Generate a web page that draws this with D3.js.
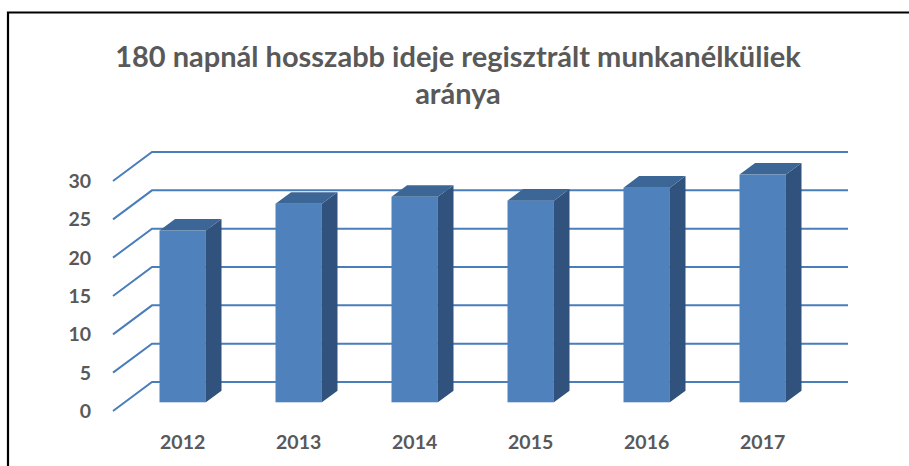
<!DOCTYPE html>
<html><head><meta charset="utf-8">
<script src="https://cdn.jsdelivr.net/npm/d3@7"></script>
<style>body{margin:0;background:#fff}svg{display:block}</style>
</head><body>
<script>
const categories = ["2012","2013","2014","2015","2016","2017"];
const values = [22.4, 25.9, 26.8, 26.3, 28.0, 29.7];
const yTicks = [0,5,10,15,20,25,30];
const titleLines = ["180 napnál hosszabb ideje regisztrált munkanélküliek","aránya"];

const W=909,H=466;
const svg=d3.select("body").append("svg").attr("width",W).attr("height",H);
svg.append("rect").attr("width",W).attr("height",H).attr("fill","#fff");
// frame (partially visible)
svg.append("path").attr("d","M8,470 V12.5 H912").attr("fill","none").attr("stroke","#000").attr("stroke-width",2.2);

const depthX=39, depthY=-29;
const y=d3.scaleLinear().domain([0,30]).range([411,181]);
const x=d3.scaleBand().domain(categories).range([113,809]).paddingInner(0.6).paddingOuter(0.3);
const font="Lato, 'Open Sans', sans-serif";

// title
svg.append("g").selectAll("text").data(titleLines).join("text")
  .attr("x",458).attr("y",(d,i)=>67+i*37).attr("text-anchor","middle")
  .attr("font-family",font).attr("font-weight","bold").attr("font-size",29)
  .attr("fill","#595959").text(d=>d);

// gridlines
const grid=svg.append("g").attr("stroke","#4A7EBB").attr("stroke-width",2).attr("fill","none");
grid.selectAll("path").data(yTicks).join("path")
  .attr("d",t=>`M${113},${y(t)} L${113+depthX},${y(t)+depthY} L${809+depthX},${y(t)+depthY}`);

// y labels
svg.append("g").selectAll("text").data(yTicks).join("text")
  .attr("x",91).attr("y",t=>y(t)+7).attr("text-anchor","end")
  .attr("font-family",font).attr("font-weight","bold").attr("font-size",19.5)
  .attr("fill","#595959").text(t=>t);

// bars
const f0=0.3, f1=0.7;
const bdx=(f1-f0)*depthX, bdy=(f1-f0)*depthY;
const bars=svg.append("g").selectAll("g").data(categories.map((c,i)=>({c,v:values[i]}))).join("g")
  .attr("transform",`translate(${f0*depthX},${f0*depthY})`);
bars.append("rect").attr("x",d=>x(d.c)).attr("width",x.bandwidth())
  .attr("y",d=>y(d.v)).attr("height",d=>y(0)-y(d.v)).attr("fill","#4F81BD");
bars.append("path").attr("fill","#30527C").attr("d",d=>{
  const x1=x(d.c)+x.bandwidth(), yt=y(d.v), yb=y(0);
  return `M${x1},${yt} L${x1+bdx},${yt+bdy} L${x1+bdx},${yb+bdy} L${x1},${yb} Z`;});
bars.append("path").attr("fill","#3C6696").attr("d",d=>{
  const x0=x(d.c), x1=x0+x.bandwidth(), yt=y(d.v);
  return `M${x0},${yt} L${x1},${yt} L${x1+bdx},${yt+bdy} L${x0+bdx},${yt+bdy} Z`;});

// x labels
svg.append("g").selectAll("text").data(categories).join("text")
  .attr("x",c=>x(c)+x.bandwidth()/2+f0*depthX).attr("y",449).attr("text-anchor","middle")
  .attr("font-family",font).attr("font-weight","bold").attr("font-size",19.5)
  .attr("fill","#595959").text(c=>c);
</script>
</body></html>
